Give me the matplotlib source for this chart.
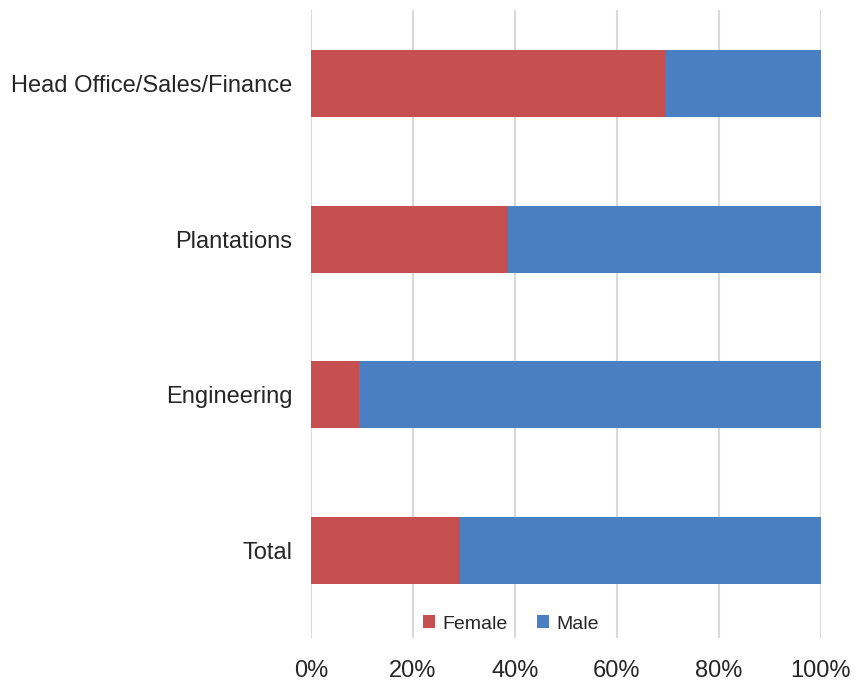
import numpy as np
import matplotlib
matplotlib.use("Agg")
import matplotlib.pyplot as plt
from matplotlib.ticker import PercentFormatter

plt.rcParams['font.family'] = ['Liberation Sans', 'DejaVu Sans']

# Data (percent share by department)
departments = ['Head Office/Sales/Finance', 'Plantations', 'Engineering', 'Total']
female = [69.6, 38.7, 9.5, 29.3]
male = [100 - f for f in female]

red = '#C5504F'
blue = '#4A7FC1'
text_col = '#262626'

fig = plt.figure(figsize=(8.55, 6.82), dpi=100)
ax = fig.add_axes([311 / 855, 1 - 638 / 682, 509.5 / 855, 628 / 682])

# top-down order
ypos = np.arange(len(departments))[::-1]
ax.barh(ypos, female, height=0.43, color=red, label='Female', zorder=3)
ax.barh(ypos, male, left=female, height=0.43, color=blue, label='Male', zorder=3)

ax.set_xlim(0, 100)
ax.set_ylim(-0.561, 3.471)
ax.set_xticks(np.arange(0, 101, 20))
ax.xaxis.set_major_formatter(PercentFormatter(decimals=0))
ax.set_yticks(ypos)
ax.set_yticklabels(departments)
ax.tick_params(axis='both', length=0, labelsize=17, colors=text_col)
ax.tick_params(axis='x', pad=16)
ax.tick_params(axis='y', pad=13.5)

ax.grid(axis='x', color='#D9D9D9', linewidth=1.5, zorder=0)
for s in ax.spines.values():
    s.set_visible(False)

fig.legend(loc='center', bbox_to_anchor=(511 / 855, 1 - 624 / 682), ncol=2,
           frameon=False, fontsize=14, handlelength=0.6, handleheight=0.6,
           handletextpad=0.4, columnspacing=1.5, labelcolor=text_col)

fig.savefig('out.png', dpi=100)
